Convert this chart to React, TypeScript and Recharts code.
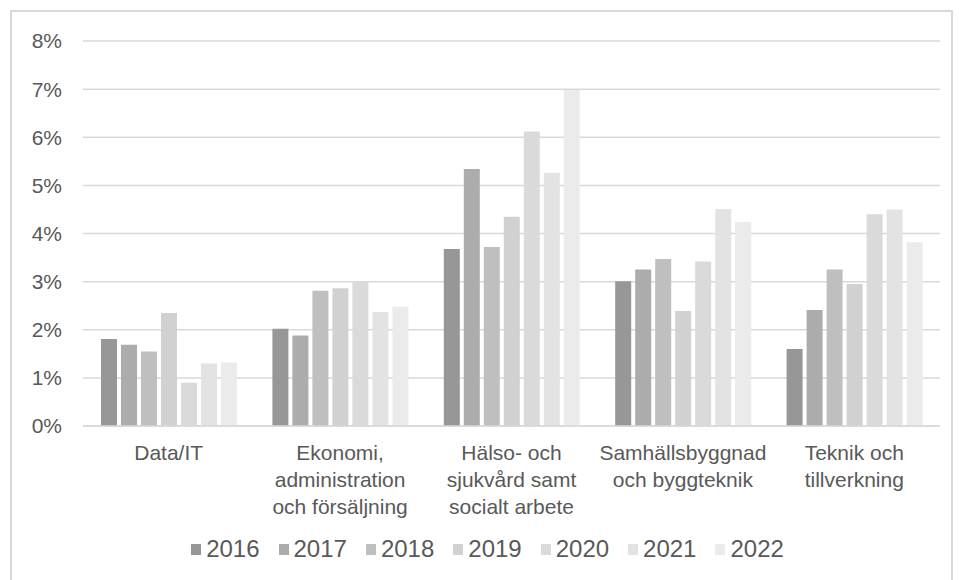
import { BarChart, Bar, XAxis, YAxis, CartesianGrid, Legend } from 'recharts'

// Categories and their wrapped tick labels
const categories = [
  'Data/IT',
  'Ekonomi, administration och försäljning',
  'Hälso- och sjukvård samt socialt arbete',
  'Samhällsbyggnad och byggteknik',
  'Teknik och tillverkning',
]

const tickLines = [
  ['Data/IT'],
  ['Ekonomi,', 'administration', 'och försäljning'],
  ['Hälso- och', 'sjukvård samt', 'socialt arbete'],
  ['Samhällsbyggnad', 'och byggteknik'],
  ['Teknik och', 'tillverkning'],
]

const years = ['2016', '2017', '2018', '2019', '2020', '2021', '2022']

// Values in percent, one array per year (same order as categories)
const v2016 = [1.81, 2.02, 3.68, 3.01, 1.6]
const v2017 = [1.69, 1.88, 5.34, 3.25, 2.41]
const v2018 = [1.55, 2.81, 3.72, 3.47, 3.25]
const v2019 = [2.35, 2.86, 4.35, 2.39, 2.95]
const v2020 = [0.9, 2.99, 6.12, 3.42, 4.4]
const v2021 = [1.3, 2.37, 5.26, 4.51, 4.5]
const v2022 = [1.32, 2.48, 6.98, 4.24, 3.82]

const yTicks = [0, 1, 2, 3, 4, 5, 6, 7, 8]

const colors = ['#979797', '#acacac', '#bfbfbf', '#d1d1d1', '#dadada', '#e3e3e3', '#ebebeb']

const seriesValues = [v2016, v2017, v2018, v2019, v2020, v2021, v2022]

const chartData = categories.map((name, i) => {
  const row: Record<string, string | number> = { name }
  years.forEach((y, j) => {
    row[y] = seriesValues[j][i]
  })
  return row
})

const FONT = '"Liberation Sans", Arial, sans-serif'
const TEXT = '#595959'

function CategoryTick(props: any) {
  const { x, y, payload } = props
  const lines = tickLines[payload.index] || [String(payload.value)]
  return (
    <text x={x} y={y} textAnchor="middle" fill={TEXT} fontSize={21} fontFamily={FONT}>
      {lines.map((line, i) => (
        <tspan key={i} x={x} dy={i === 0 ? 26 : 27}>
          {line}
        </tspan>
      ))}
    </text>
  )
}

function YearLegend() {
  return (
    <div
      style={{
        display: 'flex',
        justifyContent: 'center',
        alignItems: 'center',
        height: 24,
        fontFamily: FONT,
        fontSize: 24,
        color: TEXT,
      }}
    >
      {years.map((y, i) => (
        <div key={y} style={{ display: 'flex', alignItems: 'center', marginRight: i < years.length - 1 ? 19 : 0 }}>
          <span style={{ display: 'inline-block', width: 10, height: 11, background: colors[i], marginRight: 5 }} />
          <span>{y}</span>
        </div>
      ))}
    </div>
  )
}

export default function App() {
  return (
    <div
      style={{
        position: 'absolute',
        left: 10,
        top: 10,
        width: 939,
        height: 570,
        border: '2px solid #d9d9d9',
        background: '#fff',
      }}
    >
      <BarChart
        width={939}
        height={568}
        data={chartData}
        margin={{ top: 29, right: 11, left: 0, bottom: 19 }}
        barSize={16}
        barGap={4}
      >
        <CartesianGrid vertical={false} stroke="#d9d9d9" strokeWidth={1.5} />
        <XAxis
          dataKey="name"
          height={111}
          interval={0}
          tickLine={false}
          axisLine={{ stroke: '#d9d9d9', strokeWidth: 1.5 }}
          tick={<CategoryTick />}
        />
        <YAxis
          width={71}
          domain={[0, 8]}
          ticks={yTicks}
          interval={0}
          tickLine={false}
          axisLine={false}
          tickMargin={15}
          tickFormatter={(v: number) => `${v}%`}
          tick={{ fill: TEXT, fontSize: 21, fontFamily: FONT }}
        />
        <Legend
          verticalAlign="bottom"
          content={<YearLegend />}
          wrapperStyle={{ left: 6, width: 939 }}
        />
        {years.map((y, i) => (
          <Bar key={y} dataKey={y} fill={colors[i]} isAnimationActive={false} />
        ))}
      </BarChart>
    </div>
  )
}
